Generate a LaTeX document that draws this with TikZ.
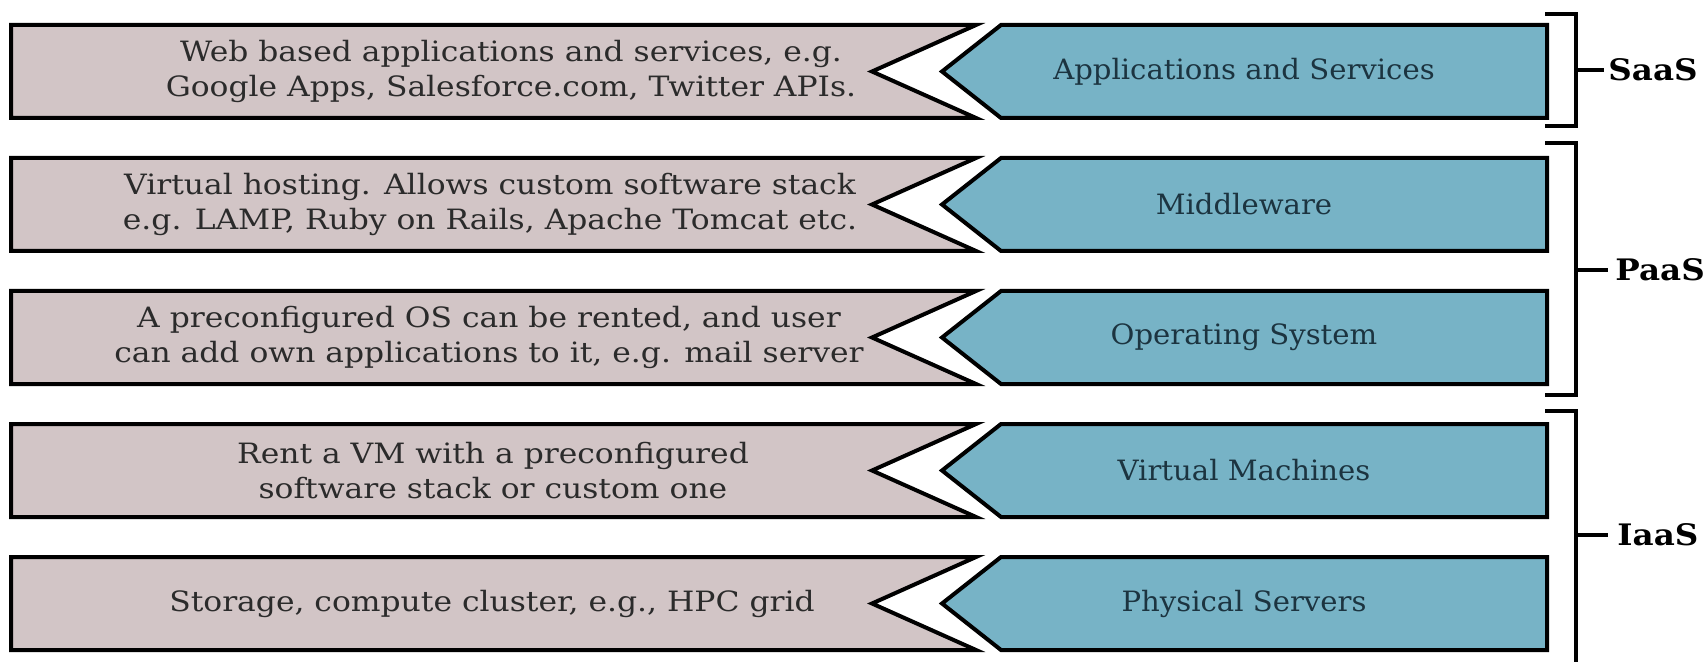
\documentclass[tikz,border=0pt]{standalone}
\usepackage{fontspec}
\setmainfont{DejaVu Serif}
\newfontfamily\descfont[FakeStretch=1.12]{DejaVu Serif}
\newfontfamily\layerfont[FakeStretch=1.04]{DejaVu Serif}
\newfontfamily\modelfont[FakeStretch=1.1]{DejaVu Serif}
\definecolor{descfill}{HTML}{D2C5C6}
\definecolor{layerfill}{HTML}{77B3C6}
\definecolor{desctext}{HTML}{2B2B2B}
\definecolor{layertext}{HTML}{1C3440}

\tikzset{
  outline/.style={draw=black, line width=2pt, line join=miter},
  descbox/.style={outline, fill=descfill},
  layerbox/.style={outline, fill=layerfill},
  desclabel/.style={text=desctext, align=center, font=\descfont\fontsize{14}{17.5}\selectfont, inner sep=0pt},
  layerlabel/.style={text=layertext, align=center, font=\layerfont\fontsize{14}{17.5}\selectfont, inner sep=0pt},
  brace/.style={draw=black, line width=2pt, line join=miter},
  servicelabel/.style={font=\modelfont\bfseries\fontsize{14.8}{16}\selectfont, anchor=west, inner sep=0pt}
}

% one stack row: #1 top edge, #2 name, #3 description, #4 description centre x, #5 layer name
\newcommand\stackrow[5]{%
  \path[descbox] (11,#1) -- (976,#1) -- (872,#1+46.5) -- (976,#1+93) -- (11,#1+93) -- cycle;
  \path[layerbox] (1001,#1) -- (1547,#1) -- (1547,#1+93) -- (1001,#1+93) -- (942,#1+46.5) -- cycle;
  \node[desclabel] (#2-desc) at (#4,#1+46.5) {#3};
  \node[layerlabel] (#2-layer) at (1244,#1+46.5) {#5};
}

\begin{document}
\begin{tikzpicture}[x=0.5pt, y=-0.5pt]
  \useasboundingbox (0,0) rectangle (1706,662);

  \stackrow{25}{apps}{Web based applications and services, e.g.\\Google Apps, Salesforce.com, Twitter APIs.}{511}{Applications and Services}
  \stackrow{158}{mid}{Virtual hosting. Allows custom software stack\\e.g. LAMP, Ruby on Rails, Apache Tomcat etc.}{490}{Middleware}
  \stackrow{291}{os}{A preconfigured OS can be rented, and user\\can add own applications to it, e.g. mail server}{489}{Operating System}
  \stackrow{424}{vm}{Rent a VM with a preconfigured\\software stack or custom one}{493}{Virtual Machines}
  \stackrow{557}{phys}{Storage, compute cluster, e.g., HPC grid}{492}{Physical Servers}

  % service model brackets
  \draw[brace] (1545,14) -- (1576,14) -- (1576,126) -- (1545,126);
  \draw[brace] (1576,70) -- (1604,70);
  \node[servicelabel] (saas) at (1608,70) {SaaS};

  \draw[brace] (1545,143) -- (1576,143) -- (1576,395) -- (1545,395);
  \draw[brace] (1576,270) -- (1608,270);
  \node[servicelabel] (paas) at (1615,270) {PaaS};

  \draw[brace] (1545,411) -- (1576,411) -- (1576,665) -- (1545,665);
  \draw[brace] (1576,535) -- (1608,535);
  \node[servicelabel] (iaas) at (1617,535) {IaaS};
\end{tikzpicture}
\end{document}
